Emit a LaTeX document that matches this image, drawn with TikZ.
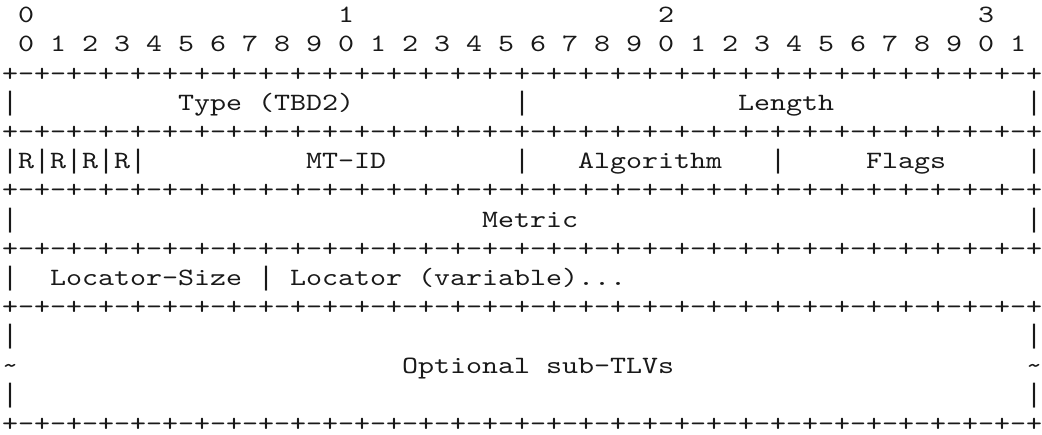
\documentclass[tikz,border=0pt]{standalone}
\usepackage{fontspec}
\newfontfamily\courfont{lmmono10-regular.otf}[FakeStretch=1.224]
\newfontfamily\libmono{Liberation Mono}
\newcommand\asciibar{{\libmono\fontsize{26.67}{30}\selectfont|}}
\def\sepline{+-+-+-+-+-+-+-+-+-+-+-+-+-+-+-+-+-+-+-+-+-+-+-+-+-+-+-+-+-+-+-+-+}
\begin{document}
\begin{tikzpicture}[x=1pt,y=-1pt,
  asc/.style={anchor=base west,inner sep=0pt,outer sep=0pt,text=black!90,
    font=\courfont\fontsize{24.9}{30}\selectfont}]
\useasboundingbox (0,0) rectangle (1042,434);
\def\cw{16}
\def\xo{2}
\def\bl#1{22.6+(#1-1)*29.2}
% row 1
\node[asc] (t0) at ({\xo+1*\cw},{\bl{1}}) {0};
\node[asc] (t1) at ({\xo+21*\cw},{\bl{1}}) {1};
\node[asc] (t2) at ({\xo+41*\cw},{\bl{1}}) {2};
\node[asc] (t3) at ({\xo+61*\cw},{\bl{1}}) {3};
% row 2
\foreach \i in {0,...,31}{
  \pgfmathtruncatemacro\dg{mod(\i,10)}
  \node[asc] (d\i) at ({\xo+(2*\i+1)*\cw},{\bl{2}}) {\dg};
}
% separators
\foreach \r in {3,5,7,9,11,15}{
  \node[asc] (s\r) at ({\xo},{\bl{\r}}) {\smash{\sepline}};
}
% row 4
\node[asc] (a0) at ({\xo},{\bl{4}}) {\asciibar};
\node[asc] (type) at ({\xo+11*\cw},{\bl{4}}) {Type (TBD2)};
\node[asc] (a1) at ({\xo+32*\cw},{\bl{4}}) {\asciibar};
\node[asc] (len) at ({\xo+46*\cw},{\bl{4}}) {Length};
\node[asc] (a2) at ({\xo+64*\cw},{\bl{4}}) {\asciibar};
% row 6
\node[asc] (rr) at ({\xo},{\bl{6}}) {\asciibar R\asciibar R\asciibar R\asciibar R\asciibar};
\node[asc] (mtid) at ({\xo+19*\cw},{\bl{6}}) {MT-ID};
\node[asc] (b1) at ({\xo+32*\cw},{\bl{6}}) {\asciibar};
\node[asc] (alg) at ({\xo+36*\cw},{\bl{6}}) {Algorithm};
\node[asc] (b2) at ({\xo+48*\cw},{\bl{6}}) {\asciibar};
\node[asc] (flags) at ({\xo+54*\cw},{\bl{6}}) {Flags};
\node[asc] (b3) at ({\xo+64*\cw},{\bl{6}}) {\asciibar};
% row 8
\node[asc] (c0) at ({\xo},{\bl{8}}) {\asciibar};
\node[asc] (metric) at ({\xo+30*\cw},{\bl{8}}) {Metric};
\node[asc] (c1) at ({\xo+64*\cw},{\bl{8}}) {\asciibar};
% row 10
\node[asc] (e0) at ({\xo},{\bl{10}}) {\asciibar};
\node[asc] (lsize) at ({\xo+3*\cw},{\bl{10}}) {Locator-Size};
\node[asc] (e1) at ({\xo+16*\cw},{\bl{10}}) {\asciibar};
\node[asc] (loc) at ({\xo+18*\cw},{\bl{10}}) {Locator (variable)...};
% rows 12-14
\node[asc] (f0) at ({\xo},{\bl{12}}) {\asciibar};
\node[asc] (f1) at ({\xo+64*\cw},{\bl{12}}) {\asciibar};
\node[asc] (g0) at ({\xo},{\bl{13}}) {\textasciitilde};
\node[asc] (sub) at ({\xo+25*\cw},{\bl{13}}) {Optional sub-TLVs};
\node[asc] (g1) at ({\xo+64*\cw},{\bl{13}}) {\textasciitilde};
\node[asc] (h0) at ({\xo},{\bl{14}}) {\asciibar};
\node[asc] (h1) at ({\xo+64*\cw},{\bl{14}}) {\asciibar};
\end{tikzpicture}
\end{document}
